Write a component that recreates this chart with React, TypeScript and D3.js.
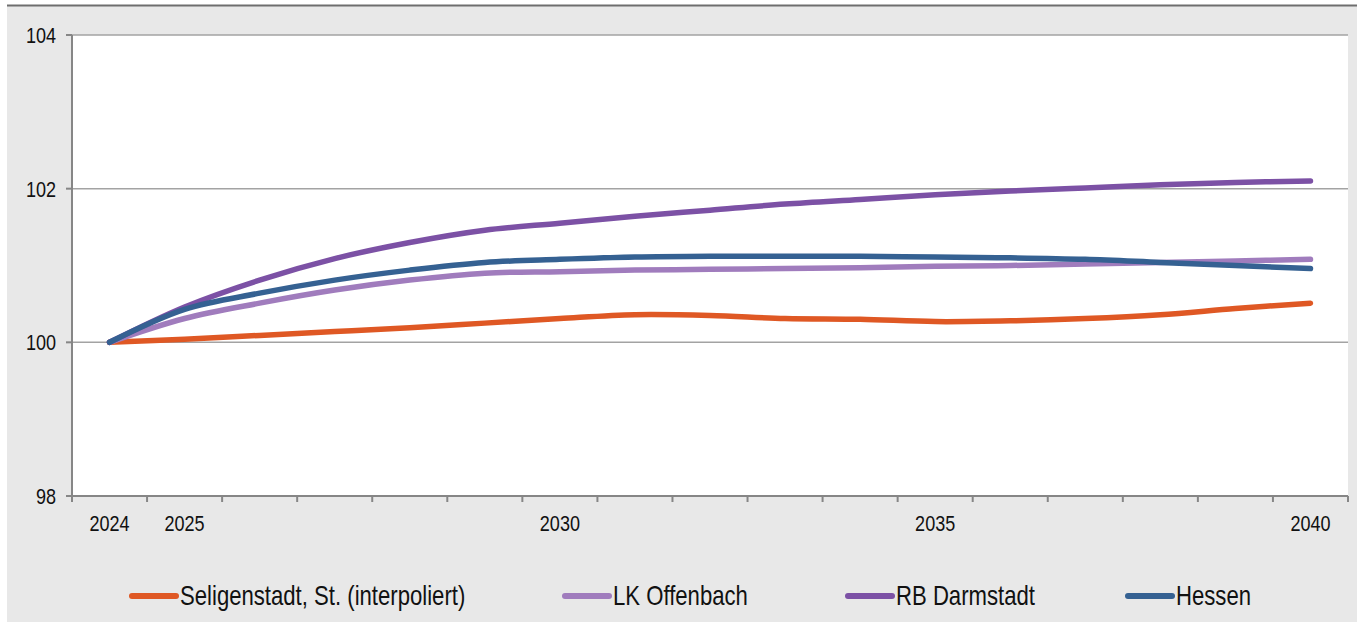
import React from "react";
import * as d3 from "d3";

// categories (years) on the x axis
const years = ["2024", "2025", "2026", "2027", "2028", "2029", "2030", "2031", "2032",
    "2033", "2034", "2035", "2036", "2037", "2038", "2039", "2040"];
const labelledYears = ["2024", "2025", "2030", "2035", "2040"];
const yTicks = [98, 100, 102, 104];

// index values, 2024 = 100
const seligenstadt = [100, 100.04, 100.09, 100.14, 100.19, 100.25, 100.31, 100.36, 100.35,
    100.31, 100.30, 100.27, 100.28, 100.31, 100.36, 100.44, 100.51];
const lkOffenbach = [100, 100.31, 100.51, 100.68, 100.81, 100.90, 100.92, 100.94, 100.95,
    100.96, 100.97, 100.99, 101.00, 101.02, 101.04, 101.06, 101.08];
const rbDarmstadt = [100, 100.46, 100.81, 101.09, 101.30, 101.46, 101.55, 101.64, 101.72,
    101.80, 101.86, 101.92, 101.97, 102.01, 102.05, 102.08, 102.10];
const hessen = [100, 100.43, 100.64, 100.81, 100.94, 101.04, 101.08, 101.11, 101.12,
    101.12, 101.12, 101.11, 101.10, 101.08, 101.04, 101.00, 100.96];

const series = [
    {name: "Seligenstadt, St. (interpoliert)", values: seligenstadt, color: "#df5824"},
    {name: "LK Offenbach", values: lkOffenbach, color: "#a07cbd"},
    {name: "RB Darmstadt", values: rbDarmstadt, color: "#7c51a5"},
    {name: "Hessen", values: hessen, color: "#356192"},
];

const W = 1357, H = 622;
const left = 72, right = 1348, top = 35, bottom = 496;
// no narrow font installed -> squeeze Liberation Sans horizontally
const font = "'Liberation Sans', Arial, sans-serif";
const squeeze = 0.82;

const legendX = [132, 565, 848, 1128];

// text squeezed like Arial Narrow
const NarrowText = ({x, y, size, anchor = "start", children}: any) => (
    <text transform={`translate(${x},${y}) scale(${squeeze},1)`} textAnchor={anchor}
          fontFamily={font} fontSize={size} fill="#111">{children}</text>
);

const App = () => {
    const x = d3.scaleBand().domain(years).range([left, right])
    const y = d3.scaleLinear().domain([98, 104]).range([bottom, top])
    const cx = (yr: string) => (x(yr) as number) + x.bandwidth() / 2

    const line = d3.line<number>()
        .x((_, i) => cx(years[i]))
        .y(v => y(v))
        .curve(d3.curveCatmullRom)

    const boundaries = [...years.map(yr => x(yr) as number), right]

    return (
        <svg width={W} height={H} style={{position: "absolute", left: 0, top: 0}}>
            <rect x={0} y={0} width={W} height={H} fill="#ffffff"/>
            <rect x={7} y={6} width={W - 7} height={H - 6} fill="#e8e8e8"/>
            <line x1={7} x2={W} y1={5.5} y2={5.5} stroke="#6e6e6e" strokeWidth={2}/>
            <rect x={left} y={top} width={right - left} height={bottom - top} fill="#ffffff"/>

            {yTicks.filter(t => t !== 98).map(t => (
                <line key={t} x1={left} x2={right} y1={y(t)} y2={y(t)} stroke="#a3a3a3" strokeWidth={1.5}/>
            ))}

            {/* y axis */}
            <line x1={left} x2={left} y1={top} y2={bottom} stroke="#868686" strokeWidth={2}/>
            {yTicks.map(t => (
                <g key={t}>
                    <line x1={left - 6} x2={left} y1={y(t)} y2={y(t)} stroke="#868686" strokeWidth={2}/>
                    <NarrowText x={56} y={y(t) + 8} size={22} anchor="end">{d3.format("d")(t)}</NarrowText>
                </g>
            ))}

            {/* x axis, ticks between categories */}
            <line x1={left} x2={right} y1={bottom} y2={bottom} stroke="#868686" strokeWidth={2}/>
            {boundaries.map((bx, i) => (
                <line key={i} x1={bx} x2={bx} y1={bottom} y2={bottom + 6} stroke="#868686" strokeWidth={2}/>
            ))}
            {labelledYears.map(yr => (
                <NarrowText key={yr} x={cx(yr)} y={531} size={22} anchor="middle">{yr}</NarrowText>
            ))}

            {series.map(s => (
                <path key={s.name} d={line(s.values) || ""} fill="none" stroke={s.color}
                      strokeWidth={5.5} strokeLinecap="round" strokeLinejoin="round"/>
            ))}

            {series.map((s, i) => (
                <g key={s.name}>
                    <line x1={legendX[i]} x2={legendX[i] + 44} y1={596} y2={596} stroke={s.color}
                          strokeWidth={6} strokeLinecap="round"/>
                    <NarrowText x={legendX[i] + 48} y={605} size={27}>{s.name}</NarrowText>
                </g>
            ))}
        </svg>
    );
};

export default App;
